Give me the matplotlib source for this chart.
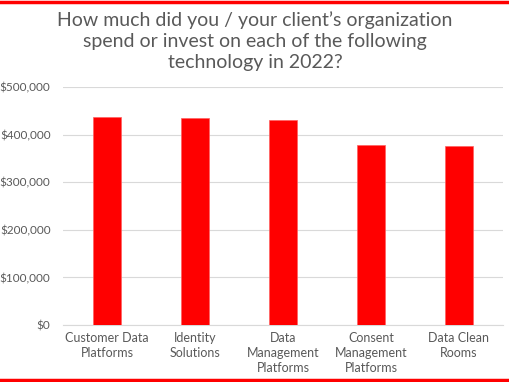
import matplotlib.pyplot as plt
from matplotlib.ticker import FuncFormatter
from matplotlib.lines import Line2D

categories = ["Customer Data\nPlatforms", "Identity\nSolutions", "Data\nManagement\nPlatforms",
              "Consent\nManagement\nPlatforms", "Data Clean\nRooms"]
spend = [437000, 434000, 430000, 378000, 377000]
yticks = [0, 100000, 200000, 300000, 400000, 500000]

title = "How much did you / your client\u2019s organization\nspend or invest on each of the following\ntechnology in 2022?"

plt.rcParams['font.family'] = ['Lato', 'DejaVu Sans']
fig = plt.figure(figsize=(5.1, 3.82), dpi=100, facecolor='white')
ax = fig.add_axes([63/510, 1 - 325/382, 440/510, 238/382])

x = range(len(categories))
ax.bar(x, spend, width=0.32, color='#ff0000', edgecolor='#ff6060', linewidth=0.5, zorder=3)
ax.set_xlim(-0.5, len(categories) - 0.5)
ax.set_ylim(0, 500000)
ax.set_yticks(yticks)
ax.yaxis.set_major_formatter(FuncFormatter(lambda v, p: "${:,.0f}".format(v)))
ax.set_xticks(list(x))
ax.set_xticklabels(categories, fontsize=9, color='#595959', linespacing=1.3)
ax.tick_params(axis='y', labelsize=8.5, labelcolor='#595959', length=0, pad=9)
ax.tick_params(axis='x', length=0, pad=5)
ax.grid(axis='y', color='#d9d9d9', linewidth=0.8, zorder=0)
for s in ['top', 'right', 'left']:
    ax.spines[s].set_visible(False)
ax.spines['bottom'].set_color('#d9d9d9')

fig.text(0.5, 1 - 11/382, title, ha='center', va='top', fontsize=14, color='#595959',
         linespacing=1.3)

fig.add_artist(Line2D([0, 1], [1 - 2/382, 1 - 2/382], color='#ff0000', linewidth=2.5))
fig.add_artist(Line2D([0, 1], [1 - 380/382, 1 - 380/382], color='#ff0000', linewidth=2.5))

fig.savefig("out.png", dpi=100)
